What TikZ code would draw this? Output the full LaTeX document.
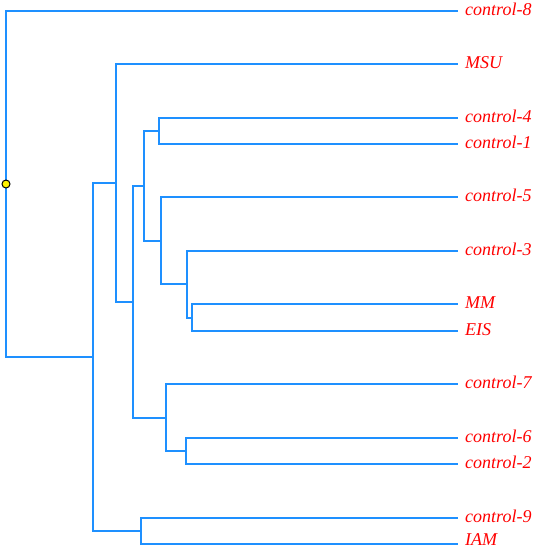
\documentclass[tikz,border=0pt]{standalone}
\usepackage{fontspec}
\setmainfont{Liberation Serif}
\definecolor{treeblue}{RGB}{30,144,255}
\tikzset{
  br/.style={draw=treeblue, line width=1.5pt, line cap=rect},
  lbl/.style={anchor=base west, inner sep=0pt, text=red, font=\fontsize{18}{20}\selectfont\itshape},
  tip/.style={inner sep=0pt, minimum size=0pt}
}
\begin{document}
\begin{tikzpicture}[x=1pt,y=-1pt]
\useasboundingbox (0,0) rectangle (533,549);
% leaves
\node[tip] (t8) at (457,11){};
\node[tip] (tmsu) at (457,64){};
\node[tip] (t4) at (457,118){};
\node[tip] (t1) at (457,144){};
\node[tip] (t5) at (457,197){};
\node[tip] (t3) at (457,251){};
\node[tip] (tmm) at (457,304){};
\node[tip] (teis) at (457,331){};
\node[tip] (t7) at (457,384){};
\node[tip] (t6) at (457,438){};
\node[tip] (t2) at (457,464){};
\node[tip] (t9) at (457,518){};
\node[tip] (tiam) at (457,544){};
\node[lbl] (l8) at (465,15){control-8};
\node[lbl] (lmsu) at (465,68){MSU};
\node[lbl] (l4) at (465,122){control-4};
\node[lbl] (l1) at (465,148){control-1};
\node[lbl] (l5) at (465,201){control-5};
\node[lbl] (l3) at (465,255){control-3};
\node[lbl] (lmm) at (465,308){MM};
\node[lbl] (leis) at (465,335){EIS};
\node[lbl] (l7) at (465,388){control-7};
\node[lbl] (l6) at (465,442){control-6};
\node[lbl] (l2) at (465,468){control-2};
\node[lbl] (l9) at (465,522){control-9};
\node[lbl] (liam) at (465,545.5){IAM};
% inner nodes
\node[tip] (nroot) at (6,184){};
\node[tip] (na) at (93,357){};
\node[tip] (nb) at (116,183){};
\node[tip] (nc) at (133,302){};
\node[tip] (nd) at (144,186){};
\node[tip] (ne) at (159,131){};
\node[tip] (nf) at (161,241){};
\node[tip] (ng) at (187,284){};
\node[tip] (nh) at (192,318){};
\node[tip] (ni) at (166,418){};
\node[tip] (nj) at (186,451){};
\node[tip] (nk) at (141,531){};
% branches
\draw[br](nroot.center) |- (t8.center);
\draw[br](nroot.center) |- (na.center);
\draw[br](na.center) |- (nb.center);
\draw[br](na.center) |- (nk.center);
\draw[br](nb.center) |- (tmsu.center);
\draw[br](nb.center) |- (nc.center);
\draw[br](nc.center) |- (nd.center);
\draw[br](nc.center) |- (ni.center);
\draw[br](nd.center) |- (ne.center);
\draw[br](nd.center) |- (nf.center);
\draw[br](ne.center) |- (t4.center);
\draw[br](ne.center) |- (t1.center);
\draw[br](nf.center) |- (t5.center);
\draw[br](nf.center) |- (ng.center);
\draw[br](ng.center) |- (t3.center);
\draw[br](ng.center) |- (nh.center);
\draw[br](nh.center) |- (tmm.center);
\draw[br](nh.center) |- (teis.center);
\draw[br](ni.center) |- (t7.center);
\draw[br](ni.center) |- (nj.center);
\draw[br](nj.center) |- (t6.center);
\draw[br](nj.center) |- (t2.center);
\draw[br](nk.center) |- (t9.center);
\draw[br](nk.center) |- (tiam.center);
\node[circle, draw=black, fill=yellow, line width=1pt, inner sep=0pt, minimum size=8pt] (rootdot) at (nroot){};
\end{tikzpicture}
\end{document}
